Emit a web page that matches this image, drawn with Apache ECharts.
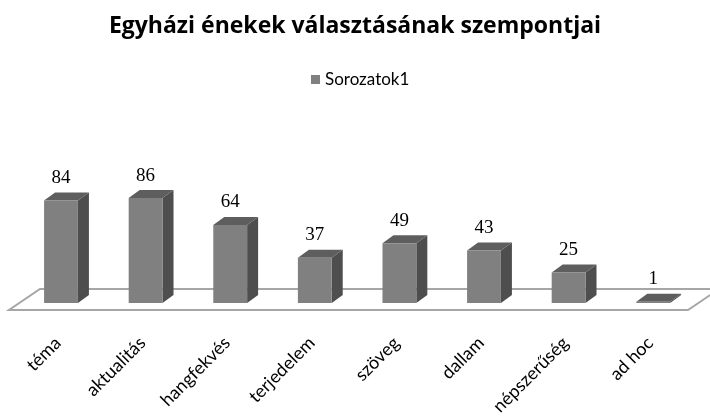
<!DOCTYPE html>
<html>
<head>
<meta charset="utf-8">
<script src="https://cdn.jsdelivr.net/npm/echarts@6/dist/echarts.min.js"></script>
<style>
html,body{margin:0;padding:0;background:#fff;}
#chart{width:710px;height:416px;}
</style>
</head>
<body>
<div id="chart"></div>
<script>
const categories = ['téma', 'aktualitás', 'hangfekvés', 'terjedelem', 'szöveg', 'dallam', 'népszerűség', 'ad hoc'];
const values = [84, 86, 64, 37, 49, 43, 25, 1];
const seriesName = 'Sorozatok1';

const chart = echarts.init(document.getElementById('chart'), null, {renderer: 'canvas'});

const DX = 11, DY = -8;

const option = {
  backgroundColor: '#ffffff',
  animation: false,
  title: {
    text: 'Egyházi énekek választásának szempontjai',
    left: 'center',
    top: 10,
    textStyle: {fontFamily: 'Open Sans', fontSize: 23, fontWeight: 'bold', color: '#000'}
  },
  legend: {
    data: [seriesName],
    left: 306,
    top: 66,
    icon: 'rect',
    itemWidth: 9,
    itemHeight: 9,
    itemGap: 5,
    textStyle: {fontFamily: 'Lato', fontSize: 17, color: '#000'}
  },
  grid: {left: 18.7, right: 14.5, top: 181, bottom: 113, containLabel: false},
  xAxis: {
    type: 'category',
    data: categories,
    axisLine: {show: false},
    axisTick: {show: false},
    axisLabel: {show: false}
  },
  yAxis: {
    type: 'value',
    min: 0,
    max: 100,
    show: false,
    splitLine: {show: false}
  },
  series: [
    {
      type: 'custom',
      name: 'floor',
      silent: true,
      z: 1,
      data: [[0]],
      renderItem: function (params, api) {
        const cs = params.coordSys;
        const base = cs.y + cs.height;
        const fy = base + 7, by = base - 14;
        const fl = cs.x - 9.7, fr = cs.x + cs.width - 7.5;
        const ox = 31;
        return {
          type: 'polygon',
          shape: {points: [[fl, fy], [fr, fy], [fr + ox, by], [fl + ox, by]]},
          style: {fill: '#ffffff', stroke: '#a6a6a6', lineWidth: 2}
        };
      }
    },
    {
      type: 'custom',
      name: 'labels',
      silent: true,
      z: 1,
      data: categories.map((c, i) => [i, 0]),
      renderItem: function (params, api) {
        const p = api.coord([api.value(0), 0]);
        return {
          type: 'text',
          x: p[0] - 3,
          y: p[1] + 37,
          rotation: Math.PI / 4,
          style: {text: categories[api.value(0)], fontFamily: 'Lato', fontSize: 18, fill: '#000',
            align: 'right', verticalAlign: 'middle'}
        };
      }
    },
    {
      type: 'custom',
      name: seriesName,
      z: 2,
      itemStyle: {color: '#808080'},
      data: values.map((v, i) => [i, v]),
      encode: {x: 0, y: 1},
      renderItem: function (params, api) {
        const top = api.coord([api.value(0), api.value(1)]);
        const bot = api.coord([api.value(0), 0]);
        const w = api.size([1, 0])[0] * 0.4;
        const l = top[0] - w / 2, r = top[0] + w / 2;
        const t = top[1], b = bot[1];
        return {
          type: 'group',
          children: [
            {type: 'polygon', shape: {points: [[r, t], [r + DX, t + DY], [r + DX, b + DY], [r, b]]},
              style: {fill: '#4e4e4e'}},
            {type: 'polygon', shape: {points: [[l, t], [l + DX, t + DY], [r + DX, t + DY], [r, t]]},
              style: {fill: '#5e5e5e'}},
            {type: 'rect', shape: {x: l, y: t, width: w, height: Math.max(b - t, 0.5)},
              style: {fill: '#808080'}},
            {type: 'text', x: top[0], y: t - 13,
              style: {text: String(api.value(1)), fontFamily: 'Liberation Serif', fontSize: 19,
                fill: '#000', align: 'center', verticalAlign: 'bottom'}}
          ]
        };
      }
    }
  ]
};
chart.setOption(option);
</script>
</body>
</html>
